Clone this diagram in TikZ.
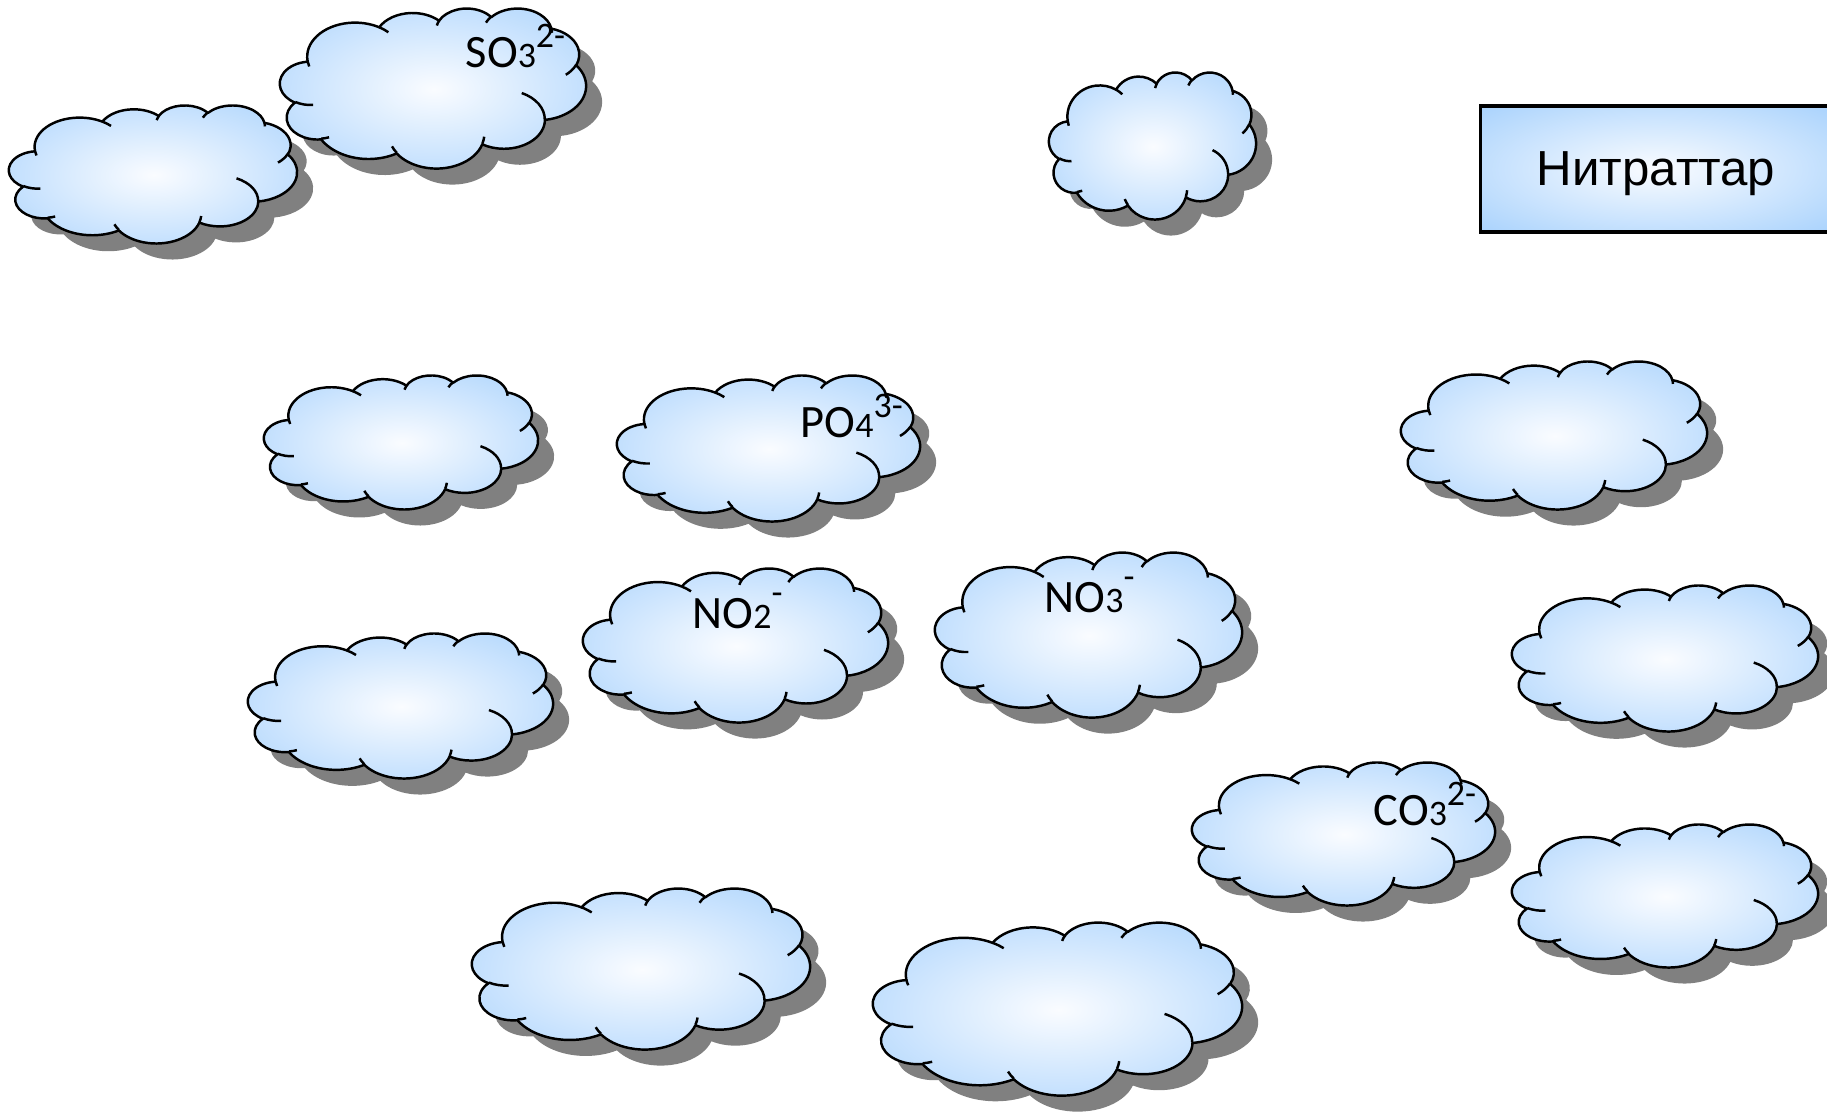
\documentclass[tikz,border=0pt]{standalone}
\usepackage{fontspec}
\usepackage{tikz}
\newfontfamily\ionfont{Carlito}
\newfontfamily\boxfont{Liberation Sans}

\definecolor{cloudcore}{RGB}{250,252,255}
\definecolor{cloudedge}{RGB}{145,198,252}
\pgfdeclareradialshading{cloudfill}{\pgfpoint{0bp}{0bp}}{color(0bp)=(cloudcore); color(46bp)=(cloudedge); color(50bp)=(cloudedge)}

% small digits and charges of the ions
\newcommand\ionsub[1]{{\fontsize{10.2pt}{10pt}\selectfont #1}}
\newcommand\ionsup[2][5.6pt]{\raisebox{#1}{\fontsize{10.2pt}{10pt}\selectfont #2}}

% cloud outline in a 100 x 100 box (y downwards)
\newcommand\cloudoutline{(9.028,33.264)
  [cloudarc={15.632}{21.273}{-190.4875}{123.7805}]
  [cloudarc={12.345}{16.822}{-144.1024}{89.9452}]
  [cloudarc={10.104}{13.762}{-145.8079}{99.7230}]
  [cloudarc={11.243}{15.266}{-130.9861}{117.2417}]
  [cloudarc={12.345}{16.836}{-78.7089}{109.0269}]
  [cloudarc={15.683}{21.343}{-46.2673}{130.2690}]
  [cloudarc={13.391}{18.211}{0.6250}{114.0333}]
  [cloudarc={15.630}{21.331}{22.4516}{115.1726}]
  [cloudarc={17.870}{24.405}{66.2426}{75.7110}]
  [cloudarc={10.093}{13.699}{-274.9421}{146.7356}]
  [cloudarc={10.058}{13.762}{-246.8285}{152.5189}] -- cycle}
\newcommand\cloudwrinkles{
  (10.863,60.595) [cloudarc={10.058}{13.762}{86.7420}{26.4295}]
  (16.037,80.785) [cloudarc={10.093}{13.699}{73.6105}{11.4475}]
  (38.144,90.486) [cloudarc={15.630}{21.331}{137.6242}{14.0811}]
  (66.729,80.442) [cloudarc={15.630}{21.331}{6.4533}{15.9984}]
  (79.002,53.134) [cloudarc={13.391}{18.211}{-70.2924}{70.9174}]
  (96.755,35.542) [cloudarc={12.345}{16.836}{30.3180}{27.7515}]
  (88.713,12.560) [cloudarc={11.243}{15.266}{-13.7443}{14.8589}]
  (67.310,9.148) [cloudarc={11.243}{15.266}{-149.1815}{18.1954}]
  (51.252,10.926) [cloudarc={10.104}{13.762}{-163.4943}{17.6864}]
  (32.407,12.019) [cloudarc={15.632}{21.273}{-66.7070}{12.3194}]
  (9.553,36.549) [cloudarc={15.632}{21.273}{157.6544}{11.8582}]}

\tikzset{
  cloudarc/.style n args={4}{insert path={arc[x radius=#1, y radius=#2,
      start angle={atan2(#1*sin(#3),#2*cos(#3))},
      delta angle={mod(atan2(#1*sin(#3+#4),#2*cos(#3+#4))-atan2(#1*sin(#3),#2*cos(#3))+720,360)}]}},
  pics/ioncloud/.style 2 args={code={
    \begin{scope}[shift={(16,16)}, xscale=#1/100, yscale=#2/100]
      \fill[black!50] \cloudoutline;
    \end{scope}
    \begin{scope}[xscale=#1/100, yscale=#2/100]
      \path[shade, shading=cloudfill, draw, line width=0.7pt, line join=round] \cloudoutline;
      \draw[line width=0.7pt] \cloudwrinkles;
    \end{scope}
  }}
}

\begin{document}
\begin{tikzpicture}[
  x=0.01cm, y=-0.01cm,
  ion/.style={anchor=base west, inner sep=0pt, font=\ionfont\fontsize{13.2pt}{14pt}\selectfont},
  namebox/.style={draw, line width=0.9pt, shade, shading=cloudfill, minimum width=3.5cm, minimum height=1.26cm,
    text depth=0pt, font=\boxfont\fontsize{14pt}{16pt}\selectfont}
]
  \useasboundingbox[fill=white] (0,0) rectangle (1827,1111);

  % top row
  \pic (cloudso) at (280,8) {ioncloud={306}{160}};
  \pic (cloudtl) at (9,105) {ioncloud={288}{138}};
  \pic (cloudtm) at (1049,72) {ioncloud={207}{147}};

  % middle rows
  \pic (cloudml) at (264,375) {ioncloud={274}{134}};
  \pic (cloudpo) at (617,375) {ioncloud={303}{146}};
  \pic (cloudmr) at (1401,361) {ioncloud={306}{148}};
  \pic (cloudll) at (248,633) {ioncloud={305}{145}};
  \pic (cloudnt) at (583,568) {ioncloud={305}{154}};
  \pic (cloudna) at (935,552) {ioncloud={307}{165}};
  \pic (cloudlr) at (1512,585) {ioncloud={306}{146}};

  % bottom rows
  \pic (cloudco) at (1192,762) {ioncloud={303}{143}};
  \pic (cloudbr) at (1512,824) {ioncloud={306}{143}};
  \pic (cloudbl) at (472,888) {ioncloud={338}{161}};
  \pic (cloudbm) at (873,922) {ioncloud={369}{173}};

  % ion labels
  \node[ion] (so3) at (465,67) {SO\ionsub{3}\ionsup{2-}};
  \node[ion] (po4) at (800,437) {PO\ionsub{4}\ionsup{3-}};
  \node[ion] (no2) at (692,628) {NO\ionsub{2}\ionsup[6.7pt]{-}};
  \node[ion] (no3) at (1044,612) {NO\ionsub{3}\ionsup[6.7pt]{-}};
  \node[ion] (co3) at (1373,825) {CO\ionsub{3}\ionsup{2-}};

  % answer box
  \node[namebox] (nitrat) at (1656,169) {Нитраттар};
\end{tikzpicture}
\end{document}
